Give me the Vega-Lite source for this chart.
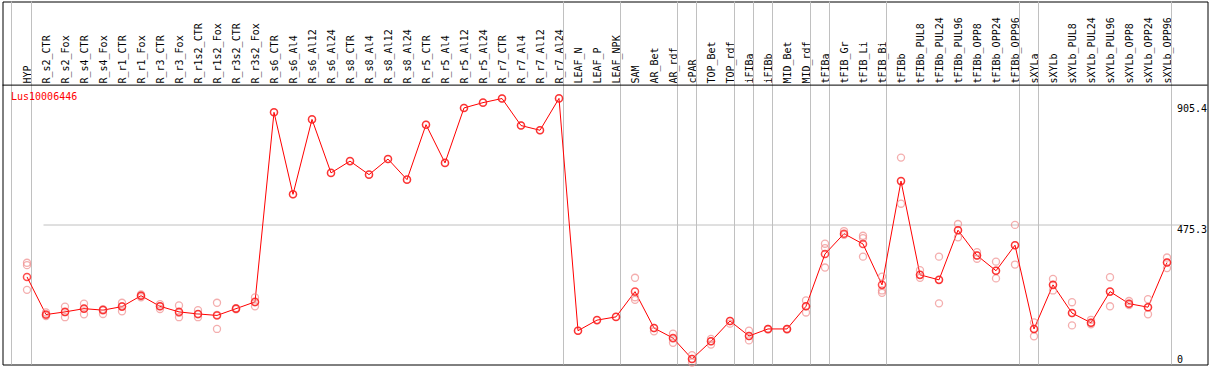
{
  "$schema": "https://vega.github.io/schema/vega-lite/v6.json",
  "autosize": {"type": "fit", "contains": "padding"},
  "width": 1209,
  "height": 370,
  "padding": {"left": 1.5, "top": 0.5, "right": 0.5, "bottom": 0.5},
  "background": "white",
  "config": {
    "view": {"stroke": "black", "strokeWidth": 1},
    "font": "DejaVu Sans Mono"
  },
  "datasets": {
    "seps": [
      {"after": "HYP"},{"after": "R_r7_Al24"},{"after": "LEAF_NPK"},{"after": "AR_rdf"},{"after": "cPAR"},{"after": "TOP_rdf"},{"after": "iFIBa"},{"after": "iFIBb"},{"after": "MID_rdf"},{"after": "tFIBa"},{"after": "tFIB_Bi"},{"after": "tFIBb_OPP96"},{"after": "sXYLa"},{"after": "sXYLb_OPP96"}
    ],
    "means": [
      {"sample": "HYP", "value": 298},
      {"sample": "R_s2_CTR", "value": 170},
      {"sample": "R_s2_Fox", "value": 179},
      {"sample": "R_s4_CTR", "value": 190},
      {"sample": "R_s4_Fox", "value": 185},
      {"sample": "R_r1_CTR", "value": 197},
      {"sample": "R_r1_Fox", "value": 234},
      {"sample": "R_r3_CTR", "value": 198},
      {"sample": "R_r3_Fox", "value": 179},
      {"sample": "R_r1s2_CTR", "value": 172},
      {"sample": "R_r1s2_Fox", "value": 167},
      {"sample": "R_r3s2_CTR", "value": 190},
      {"sample": "R_r3s2_Fox", "value": 213},
      {"sample": "R_s6_CTR", "value": 858},
      {"sample": "R_s6_Al4", "value": 579},
      {"sample": "R_s6_Al12", "value": 834},
      {"sample": "R_s6_Al24", "value": 652},
      {"sample": "R_s8_CTR", "value": 692},
      {"sample": "R_s8_Al4", "value": 646},
      {"sample": "R_s8_Al12", "value": 699},
      {"sample": "R_s8_Al24", "value": 629},
      {"sample": "R_r5_CTR", "value": 816},
      {"sample": "R_r5_Al4", "value": 686},
      {"sample": "R_r5_Al12", "value": 873},
      {"sample": "R_r5_Al24", "value": 891},
      {"sample": "R_r7_CTR", "value": 905},
      {"sample": "R_r7_Al4", "value": 813},
      {"sample": "R_r7_Al12", "value": 797},
      {"sample": "R_r7_Al24", "value": 905.4},
      {"sample": "LEAF_N", "value": 115},
      {"sample": "LEAF_P", "value": 151},
      {"sample": "LEAF_NPK", "value": 162},
      {"sample": "SAM", "value": 248},
      {"sample": "AR_Bet", "value": 124},
      {"sample": "AR_rdf", "value": 90},
      {"sample": "cPAR", "value": 19},
      {"sample": "TOP_Bet", "value": 79},
      {"sample": "TOP_rdf", "value": 148},
      {"sample": "iFIBa", "value": 97},
      {"sample": "iFIBb", "value": 121},
      {"sample": "MID_Bet", "value": 121},
      {"sample": "MID_rdf", "value": 198},
      {"sample": "tFIBa", "value": 376},
      {"sample": "tFIB_Gr", "value": 445},
      {"sample": "tFIB_Li", "value": 410},
      {"sample": "tFIB_Bi", "value": 271},
      {"sample": "tFIBb", "value": 624},
      {"sample": "tFIBb_PUL8", "value": 305},
      {"sample": "tFIBb_PUL24", "value": 288},
      {"sample": "tFIBb_PUL96", "value": 457},
      {"sample": "tFIBb_OPP8", "value": 371},
      {"sample": "tFIBb_OPP24", "value": 319},
      {"sample": "tFIBb_OPP96", "value": 406},
      {"sample": "sXYLa", "value": 121},
      {"sample": "sXYLb", "value": 271},
      {"sample": "sXYLb_PUL8", "value": 175},
      {"sample": "sXYLb_PUL24", "value": 142},
      {"sample": "sXYLb_PUL96", "value": 248},
      {"sample": "sXYLb_OPP8", "value": 207},
      {"sample": "sXYLb_OPP24", "value": 195},
      {"sample": "sXYLb_OPP96", "value": 347}
    ],
    "reps": [
      {"sample": "HYP", "value": 346},{"sample": "HYP", "value": 338},{"sample": "HYP", "value": 254},
      {"sample": "R_s2_CTR", "value": 177},{"sample": "R_s2_CTR", "value": 168},{"sample": "R_s2_CTR", "value": 165},
      {"sample": "R_s2_Fox", "value": 197},{"sample": "R_s2_Fox", "value": 178},{"sample": "R_s2_Fox", "value": 161},
      {"sample": "R_s4_CTR", "value": 207},{"sample": "R_s4_CTR", "value": 190},{"sample": "R_s4_CTR", "value": 171},
      {"sample": "R_s4_Fox", "value": 188},{"sample": "R_s4_Fox", "value": 186},{"sample": "R_s4_Fox", "value": 172},
      {"sample": "R_r1_CTR", "value": 210},{"sample": "R_r1_CTR", "value": 198},{"sample": "R_r1_CTR", "value": 181},
      {"sample": "R_r1_Fox", "value": 238},{"sample": "R_r1_Fox", "value": 234},{"sample": "R_r1_Fox", "value": 229},
      {"sample": "R_r3_CTR", "value": 205},{"sample": "R_r3_CTR", "value": 198},{"sample": "R_r3_CTR", "value": 189},
      {"sample": "R_r3_Fox", "value": 201},{"sample": "R_r3_Fox", "value": 176},{"sample": "R_r3_Fox", "value": 161},
      {"sample": "R_r1s2_CTR", "value": 185},{"sample": "R_r1s2_CTR", "value": 171},{"sample": "R_r1s2_CTR", "value": 161},
      {"sample": "R_r1s2_Fox", "value": 210},{"sample": "R_r1s2_Fox", "value": 169},{"sample": "R_r1s2_Fox", "value": 121},
      {"sample": "R_r3s2_CTR", "value": 192},{"sample": "R_r3s2_CTR", "value": 190},{"sample": "R_r3s2_CTR", "value": 188},
      {"sample": "R_r3s2_Fox", "value": 228},{"sample": "R_r3s2_Fox", "value": 212},{"sample": "R_r3s2_Fox", "value": 198},
      {"sample": "R_s6_CTR", "value": 858},{"sample": "R_s6_Al4", "value": 579},{"sample": "R_s6_Al12", "value": 834},{"sample": "R_s6_Al24", "value": 652},
      {"sample": "R_s8_CTR", "value": 692},{"sample": "R_s8_Al4", "value": 646},{"sample": "R_s8_Al12", "value": 699},{"sample": "R_s8_Al24", "value": 629},
      {"sample": "R_r5_CTR", "value": 816},{"sample": "R_r5_Al4", "value": 686},{"sample": "R_r5_Al12", "value": 873},{"sample": "R_r5_Al24", "value": 891},
      {"sample": "R_r7_CTR", "value": 905},{"sample": "R_r7_Al4", "value": 813},{"sample": "R_r7_Al12", "value": 797},{"sample": "R_r7_Al24", "value": 905.4},
      {"sample": "LEAF_N", "value": 115},{"sample": "LEAF_P", "value": 151},{"sample": "LEAF_NPK", "value": 162},
      {"sample": "SAM", "value": 295},{"sample": "SAM", "value": 229},{"sample": "SAM", "value": 220},
      {"sample": "AR_Bet", "value": 124},{"sample": "AR_Bet", "value": 113},
      {"sample": "AR_rdf", "value": 105},{"sample": "AR_rdf", "value": 88},{"sample": "AR_rdf", "value": 74},
      {"sample": "cPAR", "value": 32},{"sample": "cPAR", "value": 19},{"sample": "cPAR", "value": 7},
      {"sample": "TOP_Bet", "value": 87},{"sample": "TOP_Bet", "value": 79},{"sample": "TOP_Bet", "value": 68},
      {"sample": "TOP_rdf", "value": 148},{"sample": "TOP_rdf", "value": 139},
      {"sample": "iFIBa", "value": 115},{"sample": "iFIBa", "value": 97},{"sample": "iFIBa", "value": 82},
      {"sample": "iFIBb", "value": 121},{"sample": "iFIBb", "value": 119},
      {"sample": "MID_Bet", "value": 121},{"sample": "MID_Bet", "value": 119},
      {"sample": "MID_rdf", "value": 218},{"sample": "MID_rdf", "value": 198},{"sample": "MID_rdf", "value": 177},
      {"sample": "tFIBa", "value": 411},{"sample": "tFIBa", "value": 396},{"sample": "tFIBa", "value": 330},
      {"sample": "tFIB_Gr", "value": 454},{"sample": "tFIB_Gr", "value": 441},
      {"sample": "tFIB_Li", "value": 438},{"sample": "tFIB_Li", "value": 430},{"sample": "tFIB_Li", "value": 367},
      {"sample": "tFIB_Bi", "value": 299},{"sample": "tFIB_Bi", "value": 252},{"sample": "tFIB_Bi", "value": 244},
      {"sample": "tFIBb", "value": 704},{"sample": "tFIBb", "value": 624},{"sample": "tFIBb", "value": 547},
      {"sample": "tFIBb_PUL8", "value": 321},{"sample": "tFIBb_PUL8", "value": 305},{"sample": "tFIBb_PUL8", "value": 295},
      {"sample": "tFIBb_PUL24", "value": 367},{"sample": "tFIBb_PUL24", "value": 288},{"sample": "tFIBb_PUL24", "value": 208},
      {"sample": "tFIBb_PUL96", "value": 478},{"sample": "tFIBb_PUL96", "value": 457},{"sample": "tFIBb_PUL96", "value": 433},
      {"sample": "tFIBb_OPP8", "value": 382},{"sample": "tFIBb_OPP8", "value": 371},{"sample": "tFIBb_OPP8", "value": 360},
      {"sample": "tFIBb_OPP24", "value": 350},{"sample": "tFIBb_OPP24", "value": 319},{"sample": "tFIBb_OPP24", "value": 293},
      {"sample": "tFIBb_OPP96", "value": 475},{"sample": "tFIBb_OPP96", "value": 406},{"sample": "tFIBb_OPP96", "value": 340},
      {"sample": "sXYLa", "value": 143},{"sample": "sXYLa", "value": 121},{"sample": "sXYLa", "value": 96},
      {"sample": "sXYLb", "value": 291},{"sample": "sXYLb", "value": 271},{"sample": "sXYLb", "value": 252},
      {"sample": "sXYLb_PUL8", "value": 212},{"sample": "sXYLb_PUL8", "value": 175},{"sample": "sXYLb_PUL8", "value": 133},
      {"sample": "sXYLb_PUL24", "value": 152},{"sample": "sXYLb_PUL24", "value": 142},{"sample": "sXYLb_PUL24", "value": 137},
      {"sample": "sXYLb_PUL96", "value": 297},{"sample": "sXYLb_PUL96", "value": 248},{"sample": "sXYLb_PUL96", "value": 198},
      {"sample": "sXYLb_OPP8", "value": 216},{"sample": "sXYLb_OPP8", "value": 207},{"sample": "sXYLb_OPP8", "value": 202},
      {"sample": "sXYLb_OPP24", "value": 222},{"sample": "sXYLb_OPP24", "value": 195},{"sample": "sXYLb_OPP24", "value": 171},
      {"sample": "sXYLb_OPP96", "value": 364},{"sample": "sXYLb_OPP96", "value": 347},{"sample": "sXYLb_OPP96", "value": 328}
    ],
    "gene": [{"gene": "Lus10006446", "top": 950.6}]
  },
  "layer": [
    {
      "data": {"name": "seps"},
      "mark": {"type": "rule", "color": "#c0c0c0", "strokeWidth": 1, "xOffset": 4.5},
      "encoding": {
        "x": {
          "field": "after", "type": "nominal",
          "scale": {"type": "point", "domain": ["HYP","R_s2_CTR","R_s2_Fox","R_s4_CTR","R_s4_Fox","R_r1_CTR","R_r1_Fox","R_r3_CTR","R_r3_Fox","R_r1s2_CTR","R_r1s2_Fox","R_r3s2_CTR","R_r3s2_Fox","R_s6_CTR","R_s6_Al4","R_s6_Al12","R_s6_Al24","R_s8_CTR","R_s8_Al4","R_s8_Al12","R_s8_Al24","R_r5_CTR","R_r5_Al4","R_r5_Al12","R_r5_Al24","R_r7_CTR","R_r7_Al4","R_r7_Al12","R_r7_Al24","LEAF_N","LEAF_P","LEAF_NPK","SAM","AR_Bet","AR_rdf","cPAR","TOP_Bet","TOP_rdf","iFIBa","iFIBb","MID_Bet","MID_rdf","tFIBa","tFIB_Gr","tFIB_Li","tFIB_Bi","tFIBb","tFIBb_PUL8","tFIBb_PUL24","tFIBb_PUL96","tFIBb_OPP8","tFIBb_OPP24","tFIBb_OPP96","sXYLa","sXYLb","sXYLb_PUL8","sXYLb_PUL24","sXYLb_PUL96","sXYLb_OPP8","sXYLb_OPP24","sXYLb_OPP96"], "range": [24.5, 1164.5], "padding": 0},
          "axis": {
            "orient": "top", "title": null, "domain": false, "ticks": false, "tickSize": 0, "grid": false,
            "labelAngle": 270, "labelAlign": "left", "labelBaseline": "middle", "labelPadding": -81.5,
            "labelFont": "DejaVu Sans Mono", "labelFontSize": 10, "labelColor": "black",
            "labelOverlap": false, "labelBound": false, "labelFlush": false, "labelLimit": 0
          }
        }
      }
    },
    {
      "data": {"name": "gene"},
      "mark": {"type": "rule", "color": "#c0c0c0", "strokeWidth": 1, "xOffset": -15.5},
      "encoding": {"x": {"datum": "HYP", "type": "nominal"}}
    },
    {
      "data": {"name": "gene"},
      "mark": {"type": "rule", "color": "black", "strokeWidth": 1},
      "encoding": {"y": {"field": "top", "type": "quantitative"}}
    },
    {
      "data": {"name": "means"},
      "mark": {"type": "line", "color": "#ff0000", "strokeWidth": 1},
      "encoding": {
        "x": {"field": "sample", "type": "nominal", "sort": null},
        "y": {
          "field": "value", "type": "quantitative",
          "scale": {"domain": [0, 1235.1], "nice": false, "zero": true},
          "axis": {
            "orient": "right", "title": null, "domain": false, "ticks": false, "tickSize": 0,
            "values": [0, 475.3, 905.4],
            "grid": true, "gridColor": "#c0c0c0", "gridWidth": 1,
            "gridOpacity": {"condition": {"test": "datum.value == 475.3", "value": 1}, "value": 0},
            "labelExpr": "'' + datum.value",
            "labelFont": "DejaVu Sans Mono", "labelFontSize": 10, "labelColor": "black",
            "labelAlign": "left", "labelPadding": -31,
            "labelBaseline": {"condition": {"test": "datum.value == 0", "value": "bottom"}, "value": "top"},
            "labelOffset": {"condition": {"test": "datum.value > 900", "value": 5}, "value": 0},
            "labelFlush": false, "labelBound": false, "labelOverlap": false
          }
        }
      }
    },
    {
      "data": {"name": "reps"},
      "mark": {"type": "point", "shape": "circle", "filled": false, "color": "#f08c8c", "size": 50, "strokeWidth": 1.3},
      "encoding": {
        "x": {"field": "sample", "type": "nominal"},
        "y": {"field": "value", "type": "quantitative"}
      }
    },
    {
      "data": {"name": "means"},
      "mark": {"type": "point", "shape": "circle", "filled": false, "color": "#ff0000", "size": 50, "strokeWidth": 1.5},
      "encoding": {
        "x": {"field": "sample", "type": "nominal"},
        "y": {"field": "value", "type": "quantitative"}
      }
    },
    {
      "data": {"name": "gene"},
      "mark": {"type": "text", "color": "#ff0000", "font": "DejaVu Sans Mono", "fontSize": 10, "align": "left", "baseline": "top", "dx": -16, "dy": 7},
      "encoding": {
        "x": {"datum": "HYP", "type": "nominal"},
        "y": {"field": "top", "type": "quantitative"},
        "text": {"field": "gene"}
      }
    }
  ]
}
